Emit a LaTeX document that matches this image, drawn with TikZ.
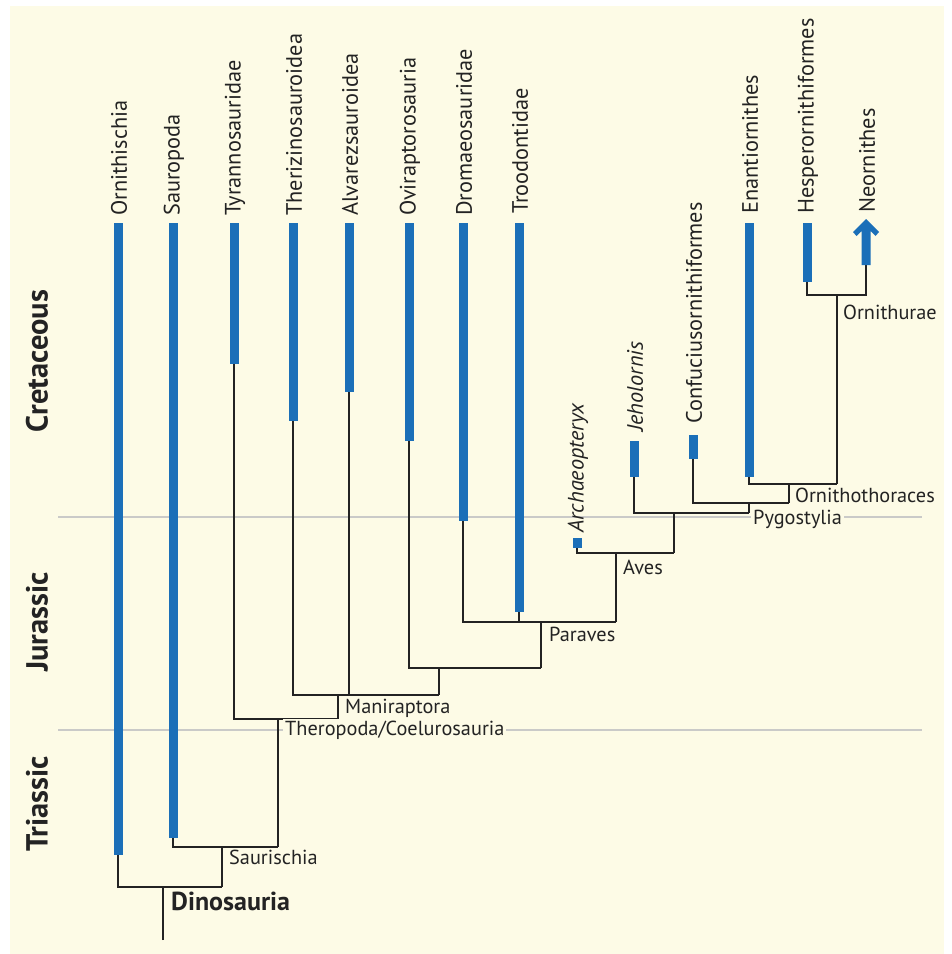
\documentclass[tikz,border=0pt]{standalone}
\usepackage{fontspec}
\setmainfont{PT Sans}
\begin{document}
\definecolor{paper}{RGB}{253,251,230}
\definecolor{barblue}{RGB}{27,111,184}
\definecolor{eraline}{RGB}{202,202,200}
\definecolor{ink}{RGB}{35,35,35}
\tikzset{
  bar/.style={barblue, line width=9pt},
  branch/.style={ink, line width=1.3pt},
  era/.style={eraline, line width=1.5pt},
  taxon/.style={rotate=90, anchor=west, inner sep=0pt, text=ink,
                font=\fontsize{22.3}{26}\selectfont},
  clade/.style={anchor=base west, inner sep=2pt, fill=paper, text=ink,
                font=\fontsize{20.3}{24}\selectfont},
  period/.style={rotate=90, text=ink, font=\bfseries\fontsize{30.5}{34}\selectfont},
}
\begin{tikzpicture}[x=1pt, y=-1pt]
\useasboundingbox (0,0) rectangle (952,954);
\fill[white] (0,0) rectangle (952,954);
\fill[paper] (10,6) rectangle (944,954);

% geological period boundaries
\coordinate (k0) at (58,517);  \coordinate (k1) at (922,517);
\coordinate (j0) at (58,730);  \coordinate (j1) at (922,730);
\draw[era] (k0) -- (k1);
\draw[era] (j0) -- (j1);

\node[period] (cret) at (37,361) {Cretaceous};
\node[period] (jura) at (37,622) {Jurassic};
\node[period] (tria) at (37,804) {Triassic};

% range bars: top and bottom of each lineage
\coordinate (ornT)  at (118,223); \coordinate (ornB)  at (118,855);
\coordinate (sauT)  at (173,223); \coordinate (sauB)  at (173,838);
\coordinate (tyrT)  at (234,223); \coordinate (tyrB)  at (234,364);
\coordinate (therT) at (293,223); \coordinate (therB) at (293,421);
\coordinate (alvT)  at (349,223); \coordinate (alvB)  at (349,392);
\coordinate (oviT)  at (409,223); \coordinate (oviB)  at (409,441);
\coordinate (droT)  at (463,223); \coordinate (droB)  at (463,521);
\coordinate (trooT) at (519,223); \coordinate (trooB) at (519,612);
\coordinate (archT) at (577,538); \coordinate (archB) at (577,548);
\coordinate (jehT)  at (634,441); \coordinate (jehB)  at (634,477);
\coordinate (confT) at (693,435); \coordinate (confB) at (693,459);
\coordinate (enanT) at (749,223); \coordinate (enanB) at (749,477);
\coordinate (hespT) at (807,223); \coordinate (hespB) at (807,282);
\coordinate (neoB)  at (866,265);

% clade stems: lower end on the parent, upper end on the split
\coordinate (dinoLo) at (163,940); \coordinate (dinoHi) at (163,887);
\coordinate (sauLo)  at (222,887); \coordinate (sauHi)  at (222,847);
\coordinate (theLo)  at (278,847); \coordinate (theHi)  at (278,719);
\coordinate (manLo)  at (338,719); \coordinate (manHi)  at (338,695);
\coordinate (opLo)   at (439,695); \coordinate (opHi)   at (439,668);
\coordinate (parLo)  at (541,668); \coordinate (parHi)  at (541,622);
\coordinate (avesLo) at (616,622); \coordinate (avesHi) at (616,553);
\coordinate (jpLo)   at (674,553); \coordinate (jpHi)   at (674,513);
\coordinate (pygLo)  at (749,513); \coordinate (pygHi)  at (749,503);
\coordinate (othLo)  at (789,503); \coordinate (othHi)  at (789,484);
\coordinate (ornuLo) at (837,484); \coordinate (ornuHi) at (837,295);

% tree branches
\draw[branch] (dinoLo) -- (dinoHi);
\draw[branch] (ornB) |- (sauLo);
\draw[branch] (sauLo) -- (sauHi);
\draw[branch] (sauB) |- (theLo);
\draw[branch] (theLo) -- (theHi);
\draw[branch] (tyrB) |- (manLo);
\draw[branch] (manLo) -- (manHi);
\draw[branch] (therB) |- (opLo);
\draw[branch] (alvB) -- (alvB |- manHi);
\draw[branch] (opLo) -- (opHi);
\draw[branch] (oviB) |- (parLo);
\draw[branch] (parLo) -- (parHi);
\draw[branch] (droB) |- (avesLo);
\draw[branch] (trooB) -- (trooB |- parHi);
\draw[branch] (avesLo) -- (avesHi);
\draw[branch] (archB) |- (jpLo);
\draw[branch] (jpLo) -- (jpHi);
\draw[branch] (jehB) |- (pygLo);
\draw[branch] (pygLo) -- (pygHi);
\draw[branch] (confB) |- (othLo);
\draw[branch] (othLo) -- (othHi);
\draw[branch] (enanB) |- (ornuLo);
\draw[branch] (ornuLo) -- (ornuHi);
\draw[branch] (hespB) |- (ornuHi) -| (neoB);

% range bars
\draw[bar] (ornT) -- (ornB);
\draw[bar] (sauT) -- (sauB);
\draw[bar] (tyrT) -- (tyrB);
\draw[bar] (therT) -- (therB);
\draw[bar] (alvT) -- (alvB);
\draw[bar] (oviT) -- (oviB);
\draw[bar] (droT) -- (droB);
\draw[bar] (trooT) -- (trooB);
\draw[bar] (archT) -- (archB);
\draw[bar] (jehT) -- (jehB);
\draw[bar] (confT) -- (confB);
\draw[bar] (enanT) -- (enanB);
\draw[bar] (hespT) -- (hespB);
% living birds: arrow to the present
\fill[barblue] (866,219) -- (879,232) -- (875.5,236) -- (870.5,231)
  -- (870.5,265) -- (861.5,265) -- (861.5,231) -- (856.5,236)
  -- (853,232) -- cycle;

% taxon names
\node[taxon] (tOrn)  at (119,216) {Ornithischia};
\node[taxon] (tSau)  at (174,216) {Sauropoda};
\node[taxon] (tTyr)  at (235,216) {Tyrannosauridae};
\node[taxon] (tTher) at (294,216) {Therizinosauroidea};
\node[taxon] (tAlv)  at (350,216) {Alvarezsauroidea};
\node[taxon] (tOvi)  at (410,216) {Oviraptorosauria};
\node[taxon] (tDro)  at (464,216) {Dromaeosauridae};
\node[taxon] (tTroo) at (520,214) {Troodontidae};
\node[taxon] (tArch) at (578,533) {\itshape Archaeopteryx};
\node[taxon] (tJeh)  at (635,432) {\itshape Jeholornis};
\node[taxon] (tConf) at (694,424) {Confuciusornithiformes};
\node[taxon] (tEnan) at (750,214) {Enantiornithes};
\node[taxon] (tHesp) at (808,214) {Hesperornithiformes};
\node[taxon] (tNeo)  at (867,213) {Neornithes};

% clade names
\node[clade] (lOrnu) at (841,319) {Ornithurae};
\node[clade] (lOth)  at (793,502) {Ornithothoraces};
\node[clade] (lPyg)  at (751,524) {Pygostylia};
\node[clade] (lAves) at (621,574) {Aves};
\node[clade] (lPar)  at (547,641) {Paraves};
\node[clade] (lMan)  at (343,713) {Maniraptora};
\node[clade] (lThe)  at (283,735) {Theropoda/Coelurosauria};
\node[clade] (lSau)  at (227,864) {Saurischia};
\node[clade, font=\bfseries\fontsize{26}{30}\selectfont] (lDino) at (169,910) {Dinosauria};
\end{tikzpicture}
\end{document}
